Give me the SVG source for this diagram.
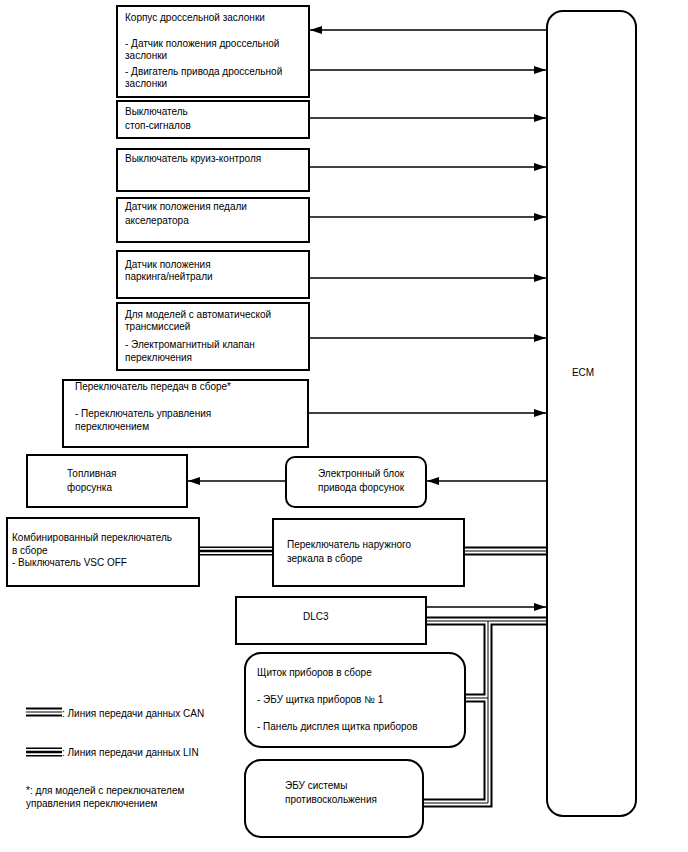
<svg xmlns="http://www.w3.org/2000/svg" width="688" height="852" viewBox="0 0 688 852">
<style>
text{font-family:"Liberation Sans",Arial,sans-serif;font-size:10px;fill:#000}
.b{fill:#fff;stroke:#000;stroke-width:2}
.c{stroke:#000;stroke-width:1.3;fill:none}
.bw{stroke:#000;stroke-width:9;fill:none}
.ww{stroke:#fff;stroke-width:5;fill:none}
.cn{stroke:#000;stroke-width:1;fill:none}
.lw{stroke:#fff;stroke-width:6;fill:none}
.ln{stroke:#000;stroke-width:2.5;fill:none}
</style>
<defs>
<marker id="ah" markerUnits="userSpaceOnUse" markerWidth="13" markerHeight="9" refX="12" refY="4" orient="auto">
<path d="M0,0 L12,4 L0,8 z" fill="#000"/>
</marker>
</defs>
<rect width="688" height="852" fill="#fff"/>
<g id="connectors">
<line class="c" x1="547" y1="30" x2="310" y2="30" marker-end="url(#ah)"/>
<line class="c" x1="309" y1="70" x2="546" y2="70" marker-end="url(#ah)"/>
<line class="c" x1="309" y1="118" x2="546" y2="118" marker-end="url(#ah)"/>
<line class="c" x1="309" y1="167" x2="546" y2="167" marker-end="url(#ah)"/>
<line class="c" x1="309" y1="217" x2="546" y2="217" marker-end="url(#ah)"/>
<line class="c" x1="309" y1="278" x2="546" y2="278" marker-end="url(#ah)"/>
<line class="c" x1="309" y1="338" x2="546" y2="338" marker-end="url(#ah)"/>
<line class="c" x1="308" y1="413" x2="546" y2="413" marker-end="url(#ah)"/>
<line class="c" x1="547" y1="481" x2="427" y2="481" marker-end="url(#ah)"/>
<line class="c" x1="286" y1="481" x2="188" y2="481" marker-end="url(#ah)"/>
<line class="c" x1="426" y1="607" x2="546" y2="607" marker-end="url(#ah)"/>
<!-- LIN -->
<line class="bw" x1="199" y1="551" x2="273" y2="551"/>
<line class="lw" x1="199" y1="551" x2="273" y2="551"/>
<line class="ln" x1="199" y1="551" x2="273" y2="551"/>
<!-- CAN -->
<path class="bw" d="M464 551 H547 M426 621 H547 M488 621 V803 H424 M465 698 H488"/>
<path class="ww" d="M464 551 H547 M426 621 H547 M488 621 V803 H424 M465 698 H488"/>
<path class="cn" d="M464 551 H547 M426 621 H547 M488 621 V803 H424 M465 698 H488"/>
</g>
<g id="ecm">
<rect class="b" x="547" y="11" width="89" height="805" rx="16"/>
<text x="583" y="376" text-anchor="middle">ECM</text>
</g>
<g id="throttle">
<rect class="b" x="117" y="6" width="192" height="91"/>
<text x="125" y="21">Корпус дроссельной заслонки</text>
<text x="125" y="47">- Датчик положения дроссельной</text>
<text x="125" y="59">заслонки</text>
<text x="125" y="75">- Двигатель привода дроссельной</text>
<text x="125" y="87">заслонки</text>
</g>
<g id="stop">
<rect class="b" x="117" y="101" width="192" height="37"/>
<text x="125" y="115">Выключатель</text>
<text x="125" y="129">стоп-сигналов</text>
</g>
<g id="cruise">
<rect class="b" x="117" y="149" width="192" height="42"/>
<text x="125" y="162">Выключатель круиз-контроля</text>
</g>
<g id="accel">
<rect class="b" x="117" y="198" width="192" height="44"/>
<text x="125" y="210">Датчик положения педали</text>
<text x="125" y="224">акселератора</text>
</g>
<g id="park">
<rect class="b" x="117" y="251" width="192" height="47"/>
<text x="125" y="268">Датчик положения</text>
<text x="125" y="280">паркинга/нейтрали</text>
</g>
<g id="at">
<rect class="b" x="117" y="303" width="192" height="67"/>
<text x="125" y="318">Для моделей с автоматической</text>
<text x="125" y="330">трансмиссией</text>
<text x="125" y="348">- Электромагнитный клапан</text>
<text x="125" y="361">переключения</text>
</g>
<g id="shift">
<rect class="b" x="63" y="380" width="245" height="67"/>
<text x="75" y="390">Переключатель передач в сборе*</text>
<text x="75" y="417">- Переключатель управления</text>
<text x="75" y="430">переключением</text>
</g>
<g id="injector">
<rect class="b" x="27" y="455" width="160" height="52"/>
<text x="67" y="477">Топливная</text>
<text x="67" y="491">форсунка</text>
</g>
<g id="edu">
<rect class="b" x="286" y="457" width="140" height="50" rx="9"/>
<text x="318" y="477">Электронный блок</text>
<text x="318" y="491">привода форсунок</text>
</g>
<g id="combo">
<rect class="b" x="7" y="518" width="192" height="68"/>
<text x="12" y="541">Комбинированный переключатель</text>
<text x="12" y="554">в сборе</text>
<text x="12" y="566">- Выключатель VSC OFF</text>
</g>
<g id="mirror">
<rect class="b" x="273" y="519" width="191" height="67"/>
<text x="287" y="548">Переключатель наружного</text>
<text x="287" y="562">зеркала в сборе</text>
</g>
<g id="dlc3">
<rect class="b" x="236" y="597" width="190" height="47"/>
<text x="303" y="620">DLC3</text>
</g>
<g id="cluster">
<rect class="b" x="245" y="653" width="220" height="94" rx="16"/>
<text x="257" y="676">Щиток приборов в сборе</text>
<text x="257" y="703">- ЭБУ щитка приборов № 1</text>
<text x="257" y="730">- Панель дисплея щитка приборов</text>
</g>
<g id="skid">
<rect class="b" x="245" y="760" width="178" height="77" rx="16"/>
<text x="285" y="789">ЭБУ системы</text>
<text x="285" y="803">противоскольжения</text>
</g>
<g id="legend">
<line class="bw" x1="26" y1="712" x2="62" y2="712"/>
<line class="ww" x1="26" y1="712" x2="62" y2="712"/>
<line class="cn" x1="26" y1="712" x2="62" y2="712"/>
<text x="62" y="717">: Линия передачи данных CAN</text>
<line class="bw" x1="26" y1="752" x2="62" y2="752"/>
<line class="lw" x1="26" y1="752" x2="62" y2="752"/>
<line class="ln" x1="26" y1="752" x2="62" y2="752"/>
<text x="62" y="756">: Линия передачи данных LIN</text>
<text x="26" y="794">*: для моделей с переключателем</text>
<text x="26" y="807">управления переключением</text>
</g>
</svg>
